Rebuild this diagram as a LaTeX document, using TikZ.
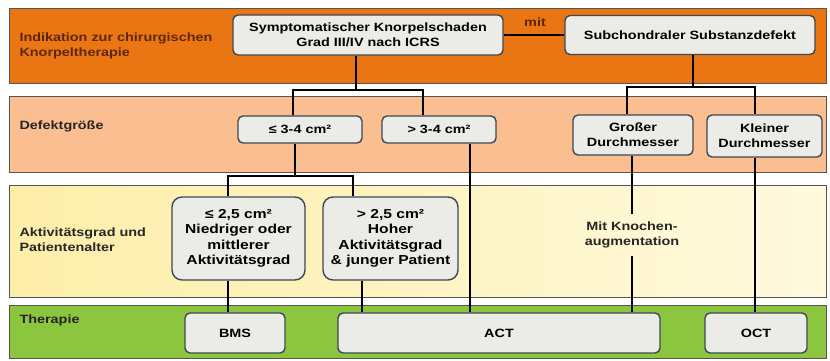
\documentclass[tikz,border=0pt]{standalone}
\usepackage{fontspec}
\setmainfont[FakeStretch=1.2]{Liberation Sans}
\definecolor{indorange}{RGB}{233, 118, 18}
\definecolor{defsalmon}{RGB}{250, 190, 145}
\definecolor{aktyellow}{RGB}{253, 238, 168}
\definecolor{aktlight}{RGB}{255, 250, 222}
\definecolor{thergreen}{RGB}{140, 198, 63}
\definecolor{boxfill}{RGB}{235, 235, 231}
\definecolor{boxline}{RGB}{62, 72, 82}
\definecolor{bandline}{RGB}{85, 85, 85}
\definecolor{indtext}{RGB}{95, 38, 12}
\usetikzlibrary{calc}

\begin{document}
\begin{tikzpicture}[x=1pt, y=-1pt,
  band/.style={draw=bandline, line width=1pt},
  box/.style={draw=boxline, fill=boxfill, line width=1.4pt, rounded corners=5pt, align=center, inner sep=2pt, font=\bfseries\fontsize{12}{15}\selectfont},
  bigbox/.style={box, rounded corners=10pt, font=\bfseries\fontsize{13}{15.5}\selectfont},
  lbl/.style={anchor=west, align=left, text=black!85, font=\bfseries\fontsize{12}{15}\selectfont},
  conn/.style={line width=1.6pt, black}
]
  \useasboundingbox (0,0) rectangle (830,360);
  \fill[white] (0,0) rectangle (830,360);

  \draw[band, fill=indorange] (9,8) rectangle (826,83);
  \draw[band, fill=defsalmon] (9,96) rectangle (826,172);
  \draw[band, left color=aktyellow, right color=aktlight] (9,185) rectangle (826,297);
  \draw[band, fill=thergreen] (9,305) rectangle (826,358);

  \node[lbl, text=indtext] (lblind) at (16,46) {Indikation zur chirurgischen\\Knorpeltherapie};
  \node[lbl] (lbldef) at (16,126) {Defektgröße};
  \node[lbl] (lblakt) at (16,240) {Aktivitätsgrad und\\Patientenalter};
  \node[lbl] (lblther) at (16,320) {Therapie};

  \node[box, minimum width=270pt, minimum height=40pt] (sympt) at (368,35) {Symptomatischer Knorpelschaden\\Grad III/IV nach ICRS};
  \node[box, minimum width=250pt, minimum height=39pt] (subch) at (690,35) {Subchondraler Substanzdefekt};
  \node[text=indtext, font=\bfseries\fontsize{12}{15}\selectfont] (mit) at (535,22) {mit};

  \node[box, minimum width=124pt, minimum height=27pt] (le34) at (300,129.5) {≤ 3-4 cm²};
  \node[box, minimum width=114pt, minimum height=27pt] (gt34) at (439,129.5) {> 3-4 cm²};
  \node[box, minimum width=120pt, minimum height=40pt] (gross) at (633,135) {Großer\\Durchmesser};
  \node[box, minimum width=115pt, minimum height=42pt] (klein) at (764.5,136) {Kleiner\\Durchmesser};

  \node[bigbox, minimum width=133pt, minimum height=83pt] (le25) at (238.5,238.5) {≤ 2,5 cm²\\Niedriger oder\\mittlerer\\Aktivitätsgrad};
  \node[bigbox, minimum width=135pt, minimum height=83pt] (gt25) at (390.5,238.5) {> 2,5 cm²\\Hoher\\Aktivitätsgrad\\\& junger Patient};
  \node[align=center, inner ysep=8pt, font=\bfseries\fontsize{12}{15}\selectfont, text=black!85] (knochen) at (632,235) {Mit Knochen-\\augmentation};

  \node[box, minimum width=100pt, minimum height=40pt] (bms) at (235,333) {BMS};
  \node[box, minimum width=322pt, minimum height=40pt] (act) at (499,333) {ACT};
  \node[box, minimum width=102pt, minimum height=40pt] (oct) at (756,333) {OCT};

  \coordinate (sy) at (356,90);
  \coordinate (syl) at (293,90);
  \coordinate (syr) at (423,90);
  \coordinate (sb) at (693,87);
  \coordinate (sbl) at (627,87);
  \coordinate (sbr) at (755,87);
  \coordinate (dg) at (295,176);
  \coordinate (dgl) at (228,176);
  \coordinate (dgr) at (353,176);

  \draw[conn] (sympt.east) -- (subch.west);
  \draw[conn] (sympt.south -| sy) -- (sy);
  \draw[conn] (le34.north -| syl) -- (syl) -- (syr) -- (gt34.north -| syr);
  \draw[conn] (subch.south -| sb) -- (sb);
  \draw[conn] (gross.north -| sbl) -- (sbl) -- (sbr) -- (klein.north -| sbr);
  \draw[conn] (le34.south -| dg) -- (dg);
  \draw[conn] (le25.north -| dgl) -- (dgl) -- (dgr) -- (gt25.north -| dgr);
  \draw[conn] (gt34.south -| 470,0) -- (act.north -| 470,0);
  \draw[conn] (gross.south -| knochen) -- (knochen.north);
  \draw[conn] (knochen.south) -- (act.north -| knochen);
  \draw[conn] (klein.south -| sbr) -- (oct.north -| sbr);
  \draw[conn] (le25.south -| dgl) -- (bms.north -| dgl);
  \draw[conn] (gt25.south -| 362,0) -- (act.north -| 362,0);
\end{tikzpicture}
\end{document}
